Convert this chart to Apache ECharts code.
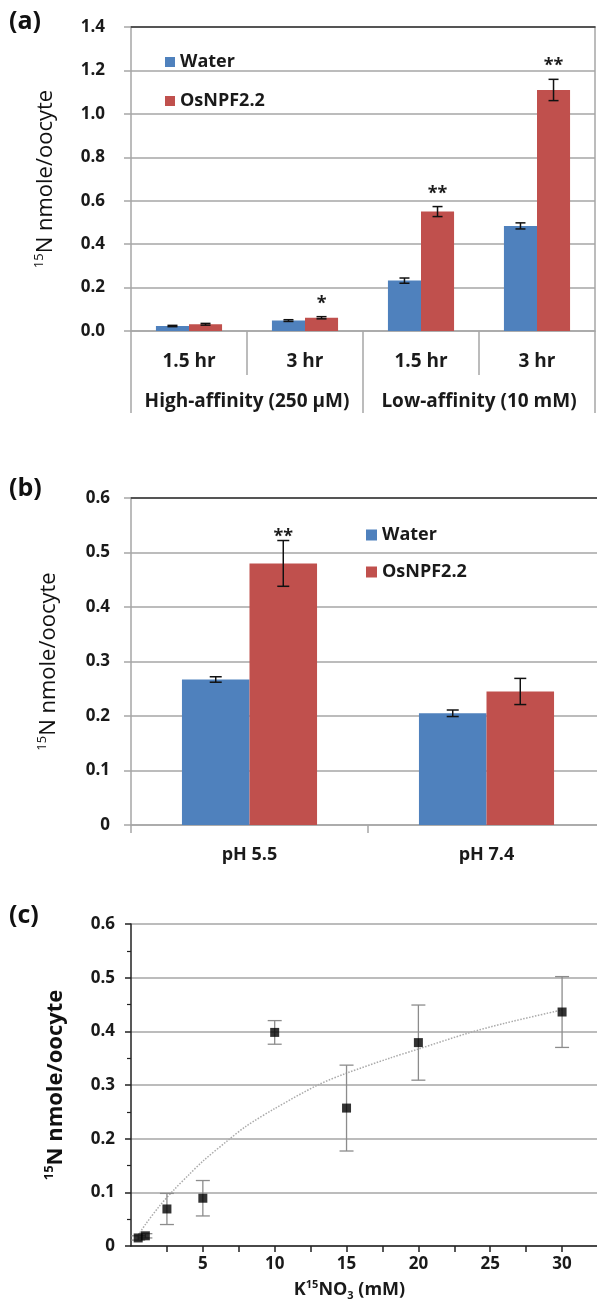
<!DOCTYPE html>
<html>
<head>
<meta charset="utf-8">
<script src="https://cdn.jsdelivr.net/npm/echarts@6/dist/echarts.min.js"></script>
<style>
html, body { margin: 0; padding: 0; background: #fff; }
#chart { width: 597px; height: 1301px; }
</style>
</head>
<body>
<div id="chart"></div>
<script>
// (a) uptake at two affinities and two time points
const timeLabels = ['1.5 hr', '3 hr', '1.5 hr', '3 hr'];
const affinityLabels = ['High-affinity (250 µM)', 'Low-affinity (10 mM)'];
const waterA = [0.023, 0.048, 0.232, 0.484];
const waterAErr = [0.003, 0.004, 0.012, 0.014];
const osA = [0.031, 0.061, 0.55, 1.11];
const osAErr = [0.004, 0.005, 0.023, 0.049];
const sigA = ['', '*', '**', '**'];

// (b) pH dependence
const phLabels = ['pH 5.5', 'pH 7.4'];
const waterB = [0.267, 0.205];
const waterBErr = [0.005, 0.006];
const osB = [0.48, 0.245];
const osBErr = [0.042, 0.024];
const sigB = ['**', ''];

// (c) concentration dependence
const concC = [0.5, 1, 2.5, 5, 10, 15, 20, 30];
const uptakeC = [0.015, 0.019, 0.069, 0.089, 0.398, 0.257, 0.379, 0.436];
const uptakeErr = [0.004, 0.004, 0.029, 0.033, 0.022, 0.08, 0.07, 0.066];
// dotted trend line
const fitX = [0.5, 1, 2, 3, 4, 5, 6.8, 8, 10, 13, 15, 18, 20, 23.5, 26, 30];
const fitY = [0.02, 0.04, 0.075, 0.105, 0.132, 0.158, 0.198, 0.223, 0.256, 0.3, 0.322, 0.35, 0.367, 0.397, 0.415, 0.44];

const FONT = '"Open Sans", "DejaVu Sans", sans-serif';
const BLUE = '#4F81BD';
const RED = '#C0504D';
const GRID_GRAY = '#A6A6A6';
const TXT = '#1a1a1a';

const myChart = echarts.init(document.getElementById('chart'));

// error bars (and stars) drawn over a grouped bar
function barErrors(xi, yi, means, errs, sig, side, capW, starGap) {
  return {
    type: 'custom',
    xAxisIndex: xi,
    yAxisIndex: yi,
    z: 5,
    data: means.map((m, i) => [i, m, errs[i]]),
    renderItem: function (params, api) {
      const i = api.value(0), m = api.value(1), e = api.value(2);
      const band = api.size([1, 0])[0];
      const x = api.coord([i, m])[0] + side * band * 0.1425;
      const yTop = api.coord([i, m + e])[1];
      const yBot = api.coord([i, m - e])[1];
      const st = { stroke: '#111', lineWidth: 1.5 };
      const kids = [
        { type: 'line', shape: { x1: x, y1: yTop, x2: x, y2: yBot }, style: st },
        { type: 'line', shape: { x1: x - capW / 2, y1: yTop, x2: x + capW / 2, y2: yTop }, style: st },
        { type: 'line', shape: { x1: x - capW / 2, y1: yBot, x2: x + capW / 2, y2: yBot }, style: st }
      ];
      const s = sig[params.dataIndex];
      if (s) {
        kids.push({
          type: 'text', x: x, y: yTop - starGap,
          style: { text: s, fill: TXT, font: 'bold 18px ' + FONT, align: 'center', verticalAlign: 'middle' }
        });
      }
      return { type: 'group', children: kids };
    }
  };
}

const tickFont = { fontFamily: FONT, fontWeight: 'bold', fontSize: 17, color: TXT };
const titleStyle = (weight) => ({
  fontFamily: FONT, fontSize: 22, fontWeight: weight, color: '#111', lineHeight: 26,
  rich: { sup: { fontFamily: FONT, fontSize: 13, fontWeight: weight, color: '#111', lineHeight: 14, verticalAlign: 'top' } }
});

const option = {
  backgroundColor: '#fff',
  animation: false,
  grid: [
    { left: 131, top: 27, width: 464, height: 304, containLabel: false, outerBoundsMode: 'none' },
    { left: 131, top: 498, width: 474, height: 327, containLabel: false, outerBoundsMode: 'none' },
    { left: 131, top: 924, width: 467, height: 322, containLabel: false, outerBoundsMode: 'none' }
  ],
  legend: [
    {
      data: ['Water', 'OsNPF2.2'], orient: 'vertical', left: 165, top: 52, padding: 0,
      itemWidth: 10, itemHeight: 10, itemGap: 19, icon: 'rect', selectedMode: false,
      textStyle: { fontFamily: FONT, fontWeight: 'bold', fontSize: 18, color: TXT, lineHeight: 20 }
    },
    {
      data: ['Water', 'OsNPF2.2'], orient: 'vertical', left: 366, top: 525, padding: 0,
      itemWidth: 11, itemHeight: 11, itemGap: 17, icon: 'rect', selectedMode: false,
      textStyle: { fontFamily: FONT, fontWeight: 'bold', fontSize: 18, color: TXT, lineHeight: 20 }
    }
  ],
  graphic: [
    { type: 'text', left: 9, top: 9, style: { text: '(a)', font: 'bold 25px ' + FONT, fill: '#111' } },
    { type: 'text', left: 9, top: 476, style: { text: '(b)', font: 'bold 25px ' + FONT, fill: '#111' } },
    { type: 'text', left: 9, top: 903, style: { text: '(c)', font: 'bold 25px ' + FONT, fill: '#111' } }
  ],
  xAxis: [
    {
      gridIndex: 0, type: 'category', position: 'bottom', data: timeLabels,
      axisLine: { lineStyle: { color: GRID_GRAY, width: 1.5 } },
      axisTick: { show: true, interval: 0, length: 44, lineStyle: { color: GRID_GRAY, width: 1.5 } },
      axisLabel: Object.assign({ interval: 0, margin: 21 }, tickFont, { fontSize: 19 })
    },
    {
      gridIndex: 0, type: 'category', position: 'bottom', offset: 0, data: affinityLabels,
      axisLine: { show: false },
      axisTick: { show: true, interval: 0, length: 82, lineStyle: { color: GRID_GRAY, width: 1.5 } },
      axisLabel: Object.assign({ interval: 0, margin: 61 }, tickFont, { fontSize: 19 })
    },
    {
      gridIndex: 0, type: 'category', position: 'top', data: timeLabels,
      axisLine: { lineStyle: { color: '#333', width: 1.5 } },
      axisTick: { show: false }, axisLabel: { show: false }
    },
    {
      gridIndex: 1, type: 'category', position: 'bottom', data: phLabels,
      axisLine: { lineStyle: { color: GRID_GRAY, width: 1.5 } },
      axisTick: { show: true, interval: 0, length: 8, lineStyle: { color: GRID_GRAY, width: 1.5 } },
      axisLabel: Object.assign({ interval: 0, margin: 21 }, tickFont, { fontSize: 18 })
    },
    {
      gridIndex: 1, type: 'category', position: 'top', data: phLabels,
      axisLine: { lineStyle: { color: '#333', width: 1.5 } },
      axisTick: { show: false }, axisLabel: { show: false }
    },
    {
      gridIndex: 2, type: 'value', position: 'bottom', min: 0, max: 32.5, interval: 2.5,
      axisLine: { onZero: false, lineStyle: { color: '#222', width: 1.5 } },
      axisTick: { show: true, length: 6, lineStyle: { color: '#222', width: 1.5 } },
      splitLine: { show: false },
      axisLabel: Object.assign({
        margin: 10, showMinLabel: false, showMaxLabel: false,
        formatter: v => (v > 0 && v % 5 === 0 ? String(v) : '')
      }, tickFont),
      name: '{n|K}{sup|15}{n|NO}{sub|3}{n| (mM)}',
      nameLocation: 'middle', nameGap: 33,
      nameTextStyle: {
        fontFamily: FONT, fontWeight: 'bold', fontSize: 18, color: TXT, lineHeight: 22, padding: [0, 30, 0, 0],
        rich: {
          n: { fontFamily: FONT, fontWeight: 'bold', fontSize: 18, color: TXT, lineHeight: 22 },
          sup: { fontFamily: FONT, fontWeight: 'bold', fontSize: 11, color: TXT, lineHeight: 12, verticalAlign: 'top' },
          sub: { fontFamily: FONT, fontWeight: 'bold', fontSize: 11, color: TXT, lineHeight: 12, verticalAlign: 'bottom' }
        }
      }
    }
  ],
  yAxis: [
    {
      gridIndex: 0, type: 'value', position: 'left', min: 0, max: 1.4, interval: 0.2,
      axisLine: { show: true, lineStyle: { color: GRID_GRAY, width: 1.5 } },
      axisTick: { show: true, length: 7, lineStyle: { color: GRID_GRAY, width: 1.5 } },
      splitLine: { show: true, lineStyle: { color: GRID_GRAY, width: 1.5 } },
      axisLabel: Object.assign({ margin: 26, formatter: v => v.toFixed(1) }, tickFont),
      name: '{sup|15}N nmole/oocyte', nameLocation: 'middle', nameGap: 72,
      nameTextStyle: titleStyle('normal')
    },
    {
      gridIndex: 0, type: 'value', position: 'right', min: 0, max: 1.4, interval: 0.2,
      axisLine: { show: true, lineStyle: { color: GRID_GRAY, width: 1.5 } },
      axisTick: { show: false }, axisLabel: { show: false }, splitLine: { show: false }
    },
    {
      gridIndex: 1, type: 'value', position: 'left', min: 0, max: 0.6, interval: 0.1,
      axisLine: { show: true, lineStyle: { color: GRID_GRAY, width: 1.5 } },
      axisTick: { show: true, length: 7, lineStyle: { color: GRID_GRAY, width: 1.5 } },
      splitLine: { show: true, lineStyle: { color: GRID_GRAY, width: 1.5 } },
      axisLabel: Object.assign({ margin: 21, formatter: v => (v === 0 ? '0' : v.toFixed(1)) }, tickFont),
      name: '{sup|15}N nmole/oocyte', nameLocation: 'middle', nameGap: 69,
      nameTextStyle: titleStyle('normal')
    },
    {
      gridIndex: 2, type: 'value', position: 'left', min: 0, max: 0.6, interval: 0.1,
      axisLine: { show: true, onZero: false, lineStyle: { color: '#222', width: 1.5 } },
      axisTick: { show: true, length: 6, lineStyle: { color: '#222', width: 1.5 } },
      minorTick: { show: true, splitNumber: 2, length: 4, lineStyle: { color: '#222', width: 1.2 } },
      splitLine: { show: true, lineStyle: { color: GRID_GRAY, width: 1.5 } },
      axisLabel: Object.assign({ margin: 16, formatter: v => (v === 0 ? '0' : v.toFixed(1)) }, tickFont),
      name: '{sup|15}N nmole/oocyte', nameLocation: 'middle', nameGap: 62,
      nameTextStyle: titleStyle('bold')
    }
  ],
  series: [
    // (a)
    { name: 'Water', type: 'bar', xAxisIndex: 0, yAxisIndex: 0, data: waterA, itemStyle: { color: BLUE }, barGap: 0, barCategoryGap: '43%' },
    { name: 'OsNPF2.2', type: 'bar', xAxisIndex: 0, yAxisIndex: 0, data: osA, itemStyle: { color: RED }, barGap: 0, barCategoryGap: '43%' },
    barErrors(0, 0, waterA, waterAErr, ['', '', '', ''], -1, 10, 0),
    barErrors(0, 0, osA, osAErr, sigA, 1, 10, 13),
    // (b)
    { name: 'Water', type: 'bar', xAxisIndex: 3, yAxisIndex: 2, data: waterB, itemStyle: { color: BLUE }, barGap: 0, barCategoryGap: '43%' },
    { name: 'OsNPF2.2', type: 'bar', xAxisIndex: 3, yAxisIndex: 2, data: osB, itemStyle: { color: RED }, barGap: 0, barCategoryGap: '43%' },
    barErrors(3, 2, waterB, waterBErr, ['', ''], -1, 12, 0),
    barErrors(3, 2, osB, osBErr, sigB, 1, 12, 4),
    // (c)
    {
      name: 'fit', type: 'line', xAxisIndex: 5, yAxisIndex: 3, smooth: 0.3, showSymbol: false, z: 2,
      data: fitX.map((x, i) => [x, fitY[i]]),
      lineStyle: { color: '#aaa', width: 1.5, type: 'dotted' }
    },
    {
      name: 'err', type: 'custom', xAxisIndex: 5, yAxisIndex: 3, z: 3,
      data: concC.map((x, i) => [x, uptakeC[i], uptakeErr[i]]),
      renderItem: function (params, api) {
        const x = api.value(0), m = api.value(1), e = api.value(2);
        const px = api.coord([x, m])[0];
        const yTop = api.coord([x, m + e])[1];
        const yBot = api.coord([x, m - e])[1];
        const st = { stroke: '#8c8c8c', lineWidth: 1.3 };
        const c = 7;
        return {
          type: 'group', children: [
            { type: 'line', shape: { x1: px, y1: yTop, x2: px, y2: yBot }, style: st },
            { type: 'line', shape: { x1: px - c, y1: yTop, x2: px + c, y2: yTop }, style: st },
            { type: 'line', shape: { x1: px - c, y1: yBot, x2: px + c, y2: yBot }, style: st }
          ]
        };
      }
    },
    {
      name: 'points', type: 'scatter', xAxisIndex: 5, yAxisIndex: 3, z: 4,
      symbol: 'rect', symbolSize: 9,
      data: concC.map((x, i) => [x, uptakeC[i]]),
      itemStyle: { color: '#000' }
    }
  ]
};

myChart.setOption(option);
</script>
</body>
</html>
